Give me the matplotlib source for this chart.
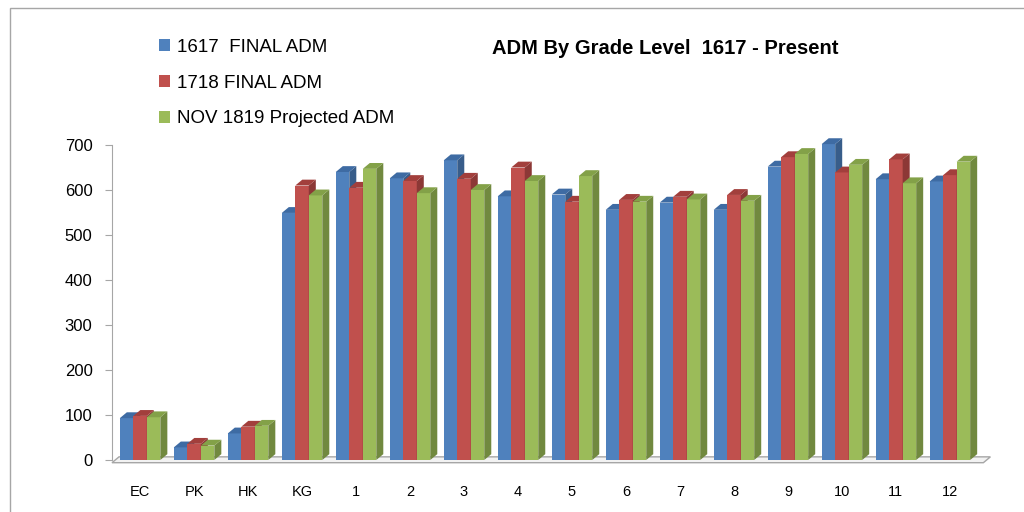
import matplotlib.pyplot as plt
from matplotlib.patches import Polygon, Rectangle
import numpy as np

grades = ['EC', 'PK', 'HK', 'KG', '1', '2', '3', '4', '5', '6', '7', '8',
          '9', '10', '11', '12']
adm_1617 = [93, 28, 59, 549, 640, 626, 666, 586, 590, 556, 572, 556, 652, 702, 624, 619]
adm_1718 = [98, 36, 74, 610, 605, 620, 625, 650, 574, 578, 585, 589, 673, 639, 668, 633]
adm_1819 = [95, 32, 76, 588, 647, 593, 600, 620, 631, 574, 579, 576, 680, 656, 615, 663]
series_names = ['1617  FINAL ADM', '1718 FINAL ADM', 'NOV 1819 Projected ADM']

front = ['#4F81BD', '#C0504D', '#9BBB59']
side = ['#385D8A', '#8C3836', '#71893F']
top = ['#3E6BA3', '#A23F3C', '#83A148']

plt.rcParams['font.family'] = ['Liberation Sans Narrow', 'Liberation Sans', 'DejaVu Sans']

fig = plt.figure(figsize=(10.24, 5.12), dpi=100)
ax = fig.add_axes([112 / 1024, 52 / 512, 873 / 1024, 315 / 512])

x = np.arange(len(grades))
w = 0.25
dx, dy = 0.13, 13.0
handles = []
for k, vals in enumerate([adm_1617, adm_1718, adm_1819]):
    lefts = x + (k - 1.5) * w
    bars = ax.bar(lefts, vals, width=w, align='edge', color=front[k],
                  label=series_names[k], zorder=3 + k, clip_on=False)
    handles.append(bars)
    for x0, h in zip(lefts, vals):
        x1 = x0 + w
        ax.add_patch(Polygon([(x1, 0), (x1 + dx, dy), (x1 + dx, h + dy), (x1, h)],
                             closed=True, facecolor=side[k], edgecolor='none',
                             zorder=3 + k, clip_on=False))
        ax.add_patch(Polygon([(x0, h), (x0 + dx, h + dy), (x1 + dx, h + dy), (x1, h)],
                             closed=True, facecolor=top[k], edgecolor='none',
                             zorder=3 + k, clip_on=False))

# floor
xl, xr = -0.52, 15.62
ax.add_patch(Polygon([(xl, -6), (xl + dx, dy - 6), (xr + dx, dy - 6), (xr, -6)],
                     closed=True, facecolor='#F2F2F2', edgecolor='#A6A6A6',
                     linewidth=1, zorder=1, clip_on=False))

ax.set_xlim(-0.52, 15.65)
ax.set_ylim(0, 700)
ax.set_yticks(range(0, 701, 100))
ax.set_xticks(x)
ax.set_xticklabels(grades)
ax.tick_params(axis='x', length=0, pad=18, labelsize=10.5)
ax.tick_params(axis='y', length=5, color='#A6A6A6', labelsize=12, pad=9)
for s in ['top', 'right', 'bottom']:
    ax.spines[s].set_visible(False)
ax.spines['left'].set_color('#A6A6A6')
ax.spines['left'].set_bounds(0, 700)

fig.legend(handles=handles, labels=series_names, loc='upper left',
           bbox_to_anchor=(142 / 1024, 1 - 22 / 512), frameon=False,
           fontsize=13.5, labelspacing=1.0, handlelength=0.6, handleheight=0.6,
           handletextpad=0.35)

fig.text(665 / 1024, 1 - 49 / 512, 'ADM By Grade Level  1617 - Present',
         ha='center', va='center', fontsize=14.5, fontweight='bold')

fig.patches.append(Rectangle((10 / 1024, -0.1), 1.2, 1.1 - 8 / 512,
                             transform=fig.transFigure, fill=False,
                             edgecolor='#A6A6A6', linewidth=1))

fig.savefig('out.png', dpi=100)
